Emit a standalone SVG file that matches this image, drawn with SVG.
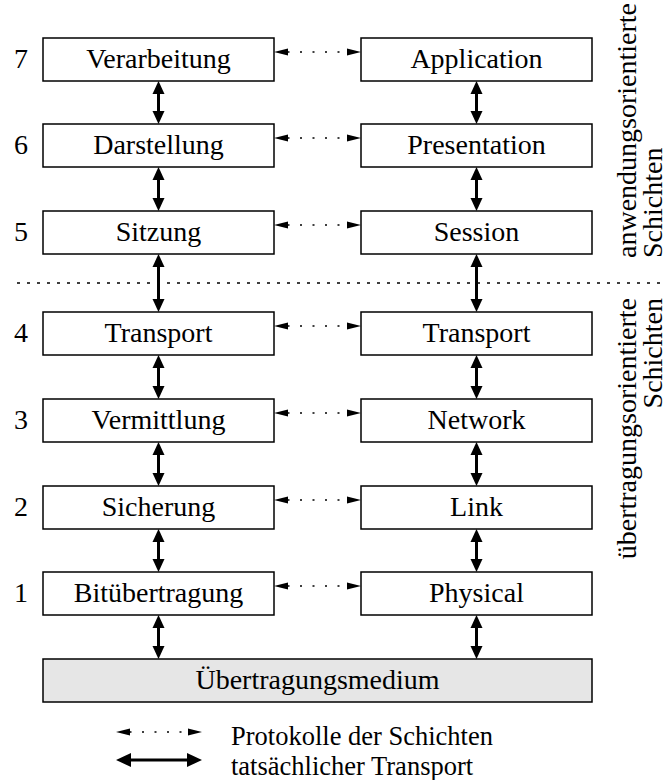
<svg xmlns="http://www.w3.org/2000/svg" width="668" height="780" viewBox="0 0 668 780">
<style>
.box{fill:#fff;stroke:#000;stroke-width:1.5}
.med{fill:#e6e6e6;stroke:#000;stroke-width:1.5}
text{font-family:"Liberation Serif","Times New Roman",serif;font-size:28px;fill:#000}
.c{text-anchor:middle}
.leg{font-size:26.5px}
.solid{stroke:#000;stroke-width:3;fill:none;marker-start:url(#hs);marker-end:url(#hs)}
.solidL{stroke:#000;stroke-width:3;fill:none;marker-start:url(#hl);marker-end:url(#hl)}
.dot{stroke:#000;stroke-width:1.3;fill:none;stroke-dasharray:2 10.5;stroke-dashoffset:0.5;marker-start:url(#hd);marker-end:url(#hd)}
.sep{stroke:#000;stroke-width:1.3;stroke-dasharray:3 7;fill:none}
</style>
<defs>
<marker id="hs" markerUnits="userSpaceOnUse" markerWidth="14" markerHeight="14" viewBox="0 -7 14 14" refX="0" refY="0" orient="auto-start-reverse" overflow="visible">
<path d="M0,-6 L13,0 L0,6 Z" fill="#000"/>
</marker>
<marker id="hl" markerUnits="userSpaceOnUse" markerWidth="16" markerHeight="16" viewBox="0 -8 16 16" refX="0" refY="0" orient="auto-start-reverse" overflow="visible">
<path d="M0,-7 L15,0 L0,7 Z" fill="#000"/>
</marker>
<marker id="hd" markerUnits="userSpaceOnUse" markerWidth="14" markerHeight="8" viewBox="0 -4 14 8" refX="0" refY="0" orient="auto-start-reverse" overflow="visible">
<path d="M0,-3.6 L14,0 L0,3.6 Z" fill="#000"/>
</marker>
</defs>

<g id="num">
<text class="c" x="21" y="68">7</text>
<text class="c" x="21" y="154">6</text>
<text class="c" x="21" y="241">5</text>
<text class="c" x="21" y="342">4</text>
<text class="c" x="21" y="429">3</text>
<text class="c" x="21" y="516">2</text>
<text class="c" x="21" y="602">1</text>
</g>

<g id="l7"><rect class="box" x="43" y="38" width="231" height="43"/><text class="c" x="158.5" y="68">Verarbeitung</text></g>
<g id="l6"><rect class="box" x="43" y="124" width="231" height="43"/><text class="c" x="158.5" y="154">Darstellung</text></g>
<g id="l5"><rect class="box" x="43" y="211" width="231" height="43"/><text class="c" x="158.5" y="241">Sitzung</text></g>
<g id="l4"><rect class="box" x="43" y="312" width="231" height="43"/><text class="c" x="158.5" y="342">Transport</text></g>
<g id="l3"><rect class="box" x="43" y="399" width="231" height="43"/><text class="c" x="158.5" y="429">Vermittlung</text></g>
<g id="l2"><rect class="box" x="43" y="486" width="231" height="43"/><text class="c" x="158.5" y="516">Sicherung</text></g>
<g id="l1"><rect class="box" x="43" y="572" width="231" height="43"/><text class="c" x="158.5" y="602">Bitübertragung</text></g>

<g id="r7"><rect class="box" x="361" y="38" width="231" height="43"/><text class="c" x="476.5" y="68">Application</text></g>
<g id="r6"><rect class="box" x="361" y="124" width="231" height="43"/><text class="c" x="476.5" y="154">Presentation</text></g>
<g id="r5"><rect class="box" x="361" y="211" width="231" height="43"/><text class="c" x="476.5" y="241">Session</text></g>
<g id="r4"><rect class="box" x="361" y="312" width="231" height="43"/><text class="c" x="476.5" y="342">Transport</text></g>
<g id="r3"><rect class="box" x="361" y="399" width="231" height="43"/><text class="c" x="476.5" y="429">Network</text></g>
<g id="r2"><rect class="box" x="361" y="486" width="231" height="43"/><text class="c" x="476.5" y="516">Link</text></g>
<g id="r1"><rect class="box" x="361" y="572" width="231" height="43"/><text class="c" x="476.5" y="602">Physical</text></g>

<g id="medium"><rect class="med" x="43" y="659" width="549" height="43"/><text class="c" x="317.5" y="689">Übertragungsmedium</text></g>

<g id="separator"><line class="sep" x1="17" y1="283" x2="662" y2="283"/></g>

<g id="groups">
<text transform="translate(636,258) rotate(-90)">anwendungsorientierte</text>
<text transform="translate(662,258) rotate(-90)">Schichten</text>
<text transform="translate(636,298) rotate(-90)" text-anchor="end">übertragungsorientierte</text>
<text transform="translate(662,298) rotate(-90)" text-anchor="end">Schichten</text>
</g>

<g id="connectors">
<line class="dot" x1="288" y1="52" x2="347" y2="52"/>
<line class="dot" x1="288" y1="138" x2="347" y2="138"/>
<line class="dot" x1="288" y1="225" x2="347" y2="225"/>
<line class="dot" x1="288" y1="326" x2="347" y2="326"/>
<line class="dot" x1="288" y1="413" x2="347" y2="413"/>
<line class="dot" x1="288" y1="500" x2="347" y2="500"/>
<line class="dot" x1="288" y1="586" x2="347" y2="586"/>

<line class="solid" x1="158.5" y1="94" x2="158.5" y2="111"/>
<line class="solid" x1="158.5" y1="180" x2="158.5" y2="198"/>
<line class="solid" x1="158.5" y1="267" x2="158.5" y2="299"/>
<line class="solid" x1="158.5" y1="368" x2="158.5" y2="386"/>
<line class="solid" x1="158.5" y1="455" x2="158.5" y2="473"/>
<line class="solid" x1="158.5" y1="542" x2="158.5" y2="559"/>
<line class="solid" x1="158.5" y1="628" x2="158.5" y2="646"/>

<line class="solid" x1="476.5" y1="94" x2="476.5" y2="111"/>
<line class="solid" x1="476.5" y1="180" x2="476.5" y2="198"/>
<line class="solid" x1="476.5" y1="267" x2="476.5" y2="299"/>
<line class="solid" x1="476.5" y1="368" x2="476.5" y2="386"/>
<line class="solid" x1="476.5" y1="455" x2="476.5" y2="473"/>
<line class="solid" x1="476.5" y1="542" x2="476.5" y2="559"/>
<line class="solid" x1="476.5" y1="628" x2="476.5" y2="646"/>
</g>

<g id="legend">
<line class="dot" x1="130" y1="732" x2="188" y2="732"/>
<line class="solidL" x1="131" y1="760" x2="187" y2="760"/>
<text class="leg" x="231" y="745">Protokolle der Schichten</text>
<text class="leg" x="231" y="775">tatsächlicher Transport</text>
</g>
</svg>
